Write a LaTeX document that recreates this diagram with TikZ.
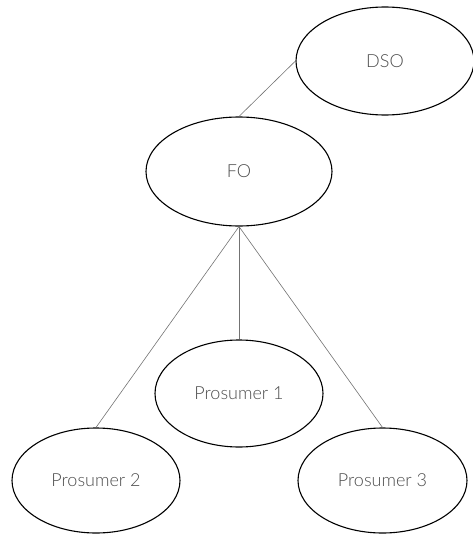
\documentclass[tikz,border=0pt]{standalone}
\usepackage{fontspec}
\setmainfont{Lato Light}
\usetikzlibrary{shapes.geometric}
\begin{document}
\begin{tikzpicture}[x=1pt,y=-1pt,
  bubble/.style={ellipse, draw=black, line width=1.1pt, inner sep=0pt,
    font=\fontsize{18}{21}\selectfont, text=black!70},
  link/.style={draw=black!55, line width=0.6pt}]
\useasboundingbox (0,0) rectangle (473,535);
% hierarchy nodes
\node[bubble, minimum width=178pt, minimum height=108pt] (dso) at (385,61) {DSO};
\node[bubble, minimum width=186pt, minimum height=109pt] (fo) at (239,171.5) {FO};
\node[bubble, minimum width=168pt, minimum height=107pt] (p1) at (239,393.5) {Prosumer 1};
\node[bubble, minimum width=168pt, minimum height=105pt] (p2) at (96,480.5) {Prosumer 2};
\node[bubble, minimum width=169pt, minimum height=105pt] (p3) at (382.5,480.5) {Prosumer 3};
% connections
\draw[link] (dso.west) -- (fo.north);
\draw[link] (fo.south) -- (p1.north);
\draw[link] (fo.south) -- (p2.north);
\draw[link] (fo.south) -- (p3.north);
\end{tikzpicture}
\end{document}
